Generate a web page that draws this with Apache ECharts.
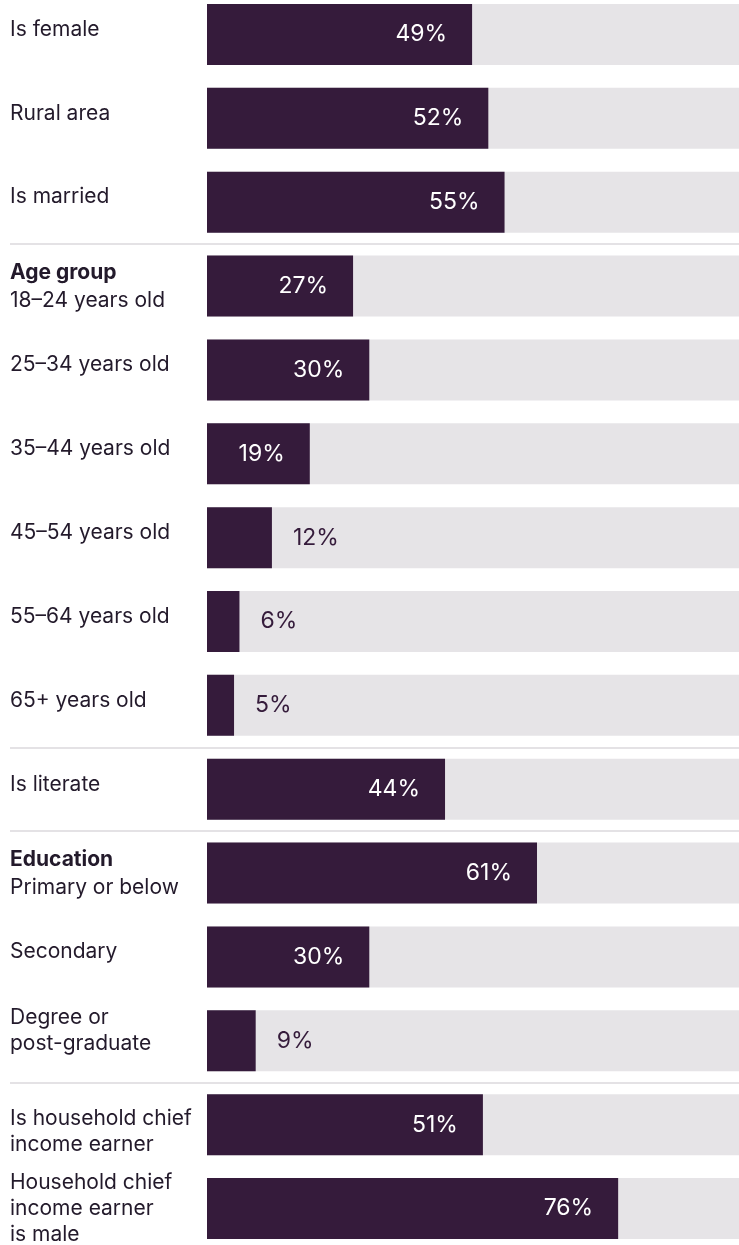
<!DOCTYPE html>
<html>
<head>
<meta charset="utf-8">
<script src="https://cdn.jsdelivr.net/npm/echarts@6/dist/echarts.min.js"></script>
<style>
  html, body { margin: 0; padding: 0; background: #ffffff; }
  #chart { width: 739px; height: 1245px; }
</style>
</head>
<body>
<div id="chart"></div>
<script>
// Row labels (top to bottom); "\n" marks a line break in the label
const categories = [
  'Is female',
  'Rural area',
  'Is married',
  '18–24 years old',
  '25–34 years old',
  '35–44 years old',
  '45–54 years old',
  '55–64 years old',
  '65+ years old',
  'Is literate',
  'Primary or below',
  'Secondary',
  'Degree or\npost-graduate',
  'Is household chief\nincome earner',
  'Household chief\nincome earner\nis male'
];

// Bold group headings shown above the first row of a group
const groupHeaders = ['', '', '', 'Age group', '', '', '', '', '', '', 'Education', '', '', '', ''];

// Share of respondents, percent
const values = [49, 52, 55, 27, 30, 19, 12, 6, 5, 44, 61, 30, 9, 51, 76];

// Row indices that start a new block (a divider is drawn above them)
const blockStarts = [3, 9, 10, 13];

const FONT = 'Inter, "Noto Sans", sans-serif';
const BAR = '#351b3b';
const TRACK = '#e6e4e7';
const TEXT = '#231a2b';

// Small vertical nudges so each label sits where the layout wants it
function labelPadding(i) {
  const lines = categories[i].split('\n').length + (groupHeaders[i] ? 1 : 0);
  if (i === 12) return [0, 0, 20, 0];
  if (i === 13) return [14, 0, 0, 0];
  if (lines === 1) return [0, 0, 10, 0];
  return [0, 0, 0, 0];
}

const axisData = categories.map((c, i) => ({
  value: c,
  textStyle: { align: 'left', padding: labelPadding(i) }
}));

const barData = values.map(v => {
  const outside = v < 15;
  return {
    value: v,
    label: outside
      ? { position: 'right', distance: 21, color: BAR }
      : { position: 'insideRight', distance: 25, color: '#ffffff' }
  };
});

// Row pitch, used to push the divider grid's closing edge off the canvas
const ROW = (1245 + 7.5 + 5.5) / categories.length;

const chart = echarts.init(document.getElementById('chart'), null, { renderer: 'canvas' });

chart.setOption({
  animation: false,
  backgroundColor: '#ffffff',
  grid: [
    { left: 207, right: -9, top: -7.5, bottom: -5.5, outerBoundsMode: 'none', containLabel: false },
    { left: 10, right: 0, top: -7.5, bottom: -5.5 - ROW, outerBoundsMode: 'none', containLabel: false }
  ],
  xAxis: [
    { type: 'value', gridIndex: 0, min: 0, max: 100, show: false },
    { type: 'value', gridIndex: 1, min: 0, max: 100, show: false }
  ],
  yAxis: [
    {
      type: 'category',
      gridIndex: 0,
      inverse: true,
      data: axisData,
      axisLine: { show: false },
      axisTick: { show: false },
      splitLine: { show: false },
      axisLabel: {
        margin: 197,
        align: 'left',
        color: TEXT,
        fontFamily: FONT,
        fontSize: 21,
        formatter: function (value, index) {
          const lines = value.split('\n').map(s => '{n|' + s + '}');
          if (groupHeaders[index]) lines.unshift('{h|' + groupHeaders[index] + '}');
          return lines.join('\n');
        },
        rich: {
          h: { fontFamily: FONT, fontSize: 21, fontWeight: 700, color: TEXT, lineHeight: 30 },
          n: { fontFamily: FONT, fontSize: 21, color: TEXT, lineHeight: 26 }
        }
      }
    },
    {
      type: 'category',
      gridIndex: 1,
      inverse: true,
      data: categories.concat(['']),
      axisLine: { show: false },
      axisTick: { show: false },
      axisLabel: { show: false },
      splitLine: {
        show: true,
        interval: function (index) { return blockStarts.indexOf(index) !== -1; },
        lineStyle: { color: '#e4e2e5', width: 2 }
      }
    }
  ],
  series: [
    {
      type: 'bar',
      xAxisIndex: 0,
      yAxisIndex: 0,
      data: barData,
      barWidth: 61,
      showBackground: true,
      backgroundStyle: { color: TRACK },
      itemStyle: { color: BAR },
      label: {
        show: true,
        formatter: '{c}%',
        fontFamily: FONT,
        fontSize: 23
      }
    }
  ]
});
</script>
</body>
</html>
